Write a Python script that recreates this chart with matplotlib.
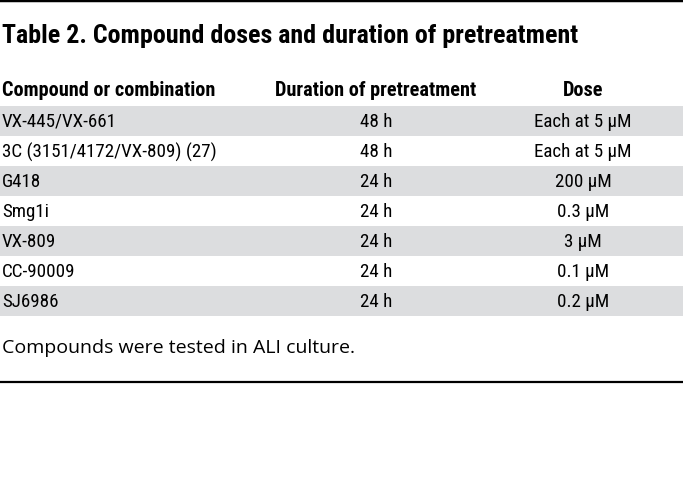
import matplotlib
matplotlib.use("Agg")
import matplotlib.pyplot as plt

compounds = ["VX-445/VX-661", "3C (3151/4172/VX-809) (27)", "G418", "Smg1i",
             "VX-809", "CC-90009", "SJ6986"]
durations = ["48 h", "48 h", "24 h", "24 h", "24 h", "24 h", "24 h"]
doses = ["Each at 5 \u03bcM", "Each at 5 \u03bcM", "200 \u03bcM", "0.3 \u03bcM",
         "3 \u03bcM", "0.1 \u03bcM", "0.2 \u03bcM"]
headers = ["Compound or combination", "Duration of pretreatment", "Dose"]
title = "Table 2. Compound doses and duration of pretreatment"
footnote = "Compounds were tested in ALI culture."

W, H = 683, 489
fig = plt.figure(figsize=(W / 100, H / 100), dpi=100)
ax = fig.add_axes([0, 0, 1, 1])
ax.set_xlim(0, W)
ax.set_ylim(H, 0)
ax.axis("off")

cond = ["Roboto Condensed", "Liberation Sans Narrow", "Roboto", "DejaVu Sans"]
reg = ["Open Sans", "DejaVu Sans"]

ax.axhline(1.2, color="black", lw=2.5)
ax.text(2, 36, title, fontsize=18.7, fontweight="bold", family=cond, va="center", ha="left")

hx = [2, 376, 583]
has = ["left", "center", "center"]
for x, h, a in zip(hx, headers, has):
    ax.text(x, 90, h, fontsize=14.6, fontweight="bold", family=cond, va="center", ha=a)

row_top = 107
row_h = 30
for i, (c, d, s) in enumerate(zip(compounds, durations, doses)):
    y0 = row_top + i * row_h
    if i % 2 == 0:
        ax.add_patch(plt.Rectangle((0, y0), W, row_h, color="#dcdddf", lw=0))
    yc = y0 + row_h / 2
    ax.text(2, yc, c, fontsize=13.7, family=cond, va="center", ha="left")
    ax.text(376, yc, d, fontsize=13.7, family=cond, va="center", ha="center")
    ax.text(583, yc, s, fontsize=13.7, family=cond, va="center", ha="center")

ax.text(2, 348, footnote, fontsize=14, family=reg, va="center", ha="left")
ax.axhline(383, color="black", lw=1.6)

fig.savefig("out.png", dpi=100)
